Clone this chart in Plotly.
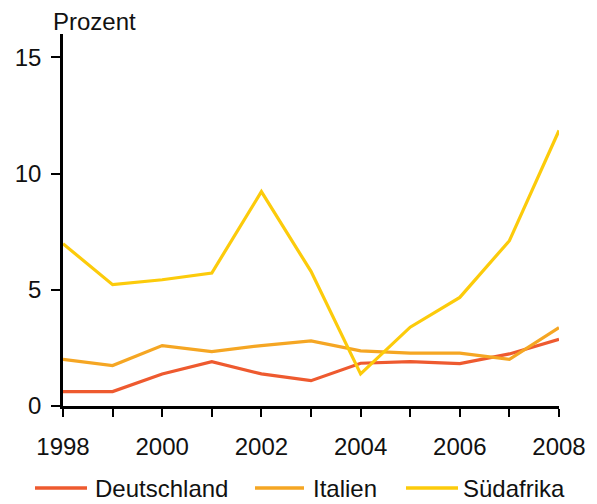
import plotly.graph_objects as go

years = list(range(1998, 2009))
deutschland = [0.62, 0.62, 1.38, 1.91, 1.38, 1.09, 1.84, 1.91, 1.82, 2.24, 2.87]
italien = [2.01, 1.74, 2.60, 2.34, 2.60, 2.80, 2.37, 2.27, 2.27, 2.01, 3.37]
suedafrika = [6.98, 5.22, 5.43, 5.72, 9.22, 5.79, 1.38, 3.39, 4.67, 7.11, 11.85]
series_names = ["Deutschland", "Italien", "Südafrika"]
colors = ["#EE5A2F", "#F5A623", "#FCCB0B"]
x_tickvals = [1998, 2000, 2002, 2004, 2006, 2008]
y_tickvals = [0, 5, 10, 15]

# page has an 8px body margin; compensate so the plot lands where the reference has it
OX, OY = 8, 8
PAGE_W, PAGE_H = 597, 504
W, H = PAGE_W - OX, PAGE_H - OY
PL, PR, PT, PB = 63, 559, 34, 406          # plot area in page pixels
L, R, T, B = PL - OX, PAGE_W - PR, PT - OY, PAGE_H - PB
pw, ph = W - L - R, H - T - B

def px_x(p):
    return (p - OX - L) / pw

def px_y(p):
    return (H - B - (p - OY)) / ph

fig = go.Figure()
for name, vals, col in zip(series_names, [deutschland, italien, suedafrika], colors):
    fig.add_trace(go.Scatter(x=years, y=vals, mode="lines", name=name,
                             line=dict(color=col, width=3.2), showlegend=False))

# custom legend (line sample + label) to match reference layout
legend_pos = [(35, 87, 93), (255, 304, 311), (406, 458, 461)]
shapes, annotations = [], []
ly = px_y(488)
for (x0, x1, tx), name, col in zip(legend_pos, series_names, colors):
    shapes.append(dict(type="line", xref="paper", yref="paper",
                       x0=px_x(x0), x1=px_x(x1), y0=ly, y1=ly,
                       line=dict(color=col, width=3.5)))
    annotations.append(dict(text=name, xref="paper", yref="paper", x=px_x(tx), y=ly,
                            xanchor="left", yanchor="middle", showarrow=False,
                            font=dict(size=24)))
annotations.append(dict(text="Prozent", xref="paper", yref="paper", x=px_x(51), y=px_y(21),
                        xanchor="left", yanchor="middle", showarrow=False,
                        font=dict(size=24)))

fig.update_layout(
    width=W, height=H,
    margin=dict(l=L, r=R, t=T, b=B, autoexpand=False),
    paper_bgcolor="white", plot_bgcolor="white",
    font=dict(family="Liberation Sans, Arial, sans-serif", size=24, color="#111"),
    showlegend=False,
    xaxis=dict(range=[1998, 2008], tickvals=x_tickvals, ticks="outside", ticklen=8,
               tickwidth=2, tickcolor="black", showline=True, linecolor="black",
               linewidth=2.5, showgrid=False, zeroline=False, automargin=False,
               ticklabelstandoff=9,
               minor=dict(dtick=1, tick0=1998, ticks="outside", ticklen=8,
                          tickwidth=2, tickcolor="black")),
    yaxis=dict(range=[0, 16], tickvals=y_tickvals, ticks="outside", ticklen=9,
               tickwidth=2, tickcolor="black", showline=True, linecolor="black",
               linewidth=2.5, showgrid=False, zeroline=False, automargin=False,
               ticklabelstandoff=5),
    shapes=shapes,
    annotations=annotations,
)
fig.write_html("out.html")
